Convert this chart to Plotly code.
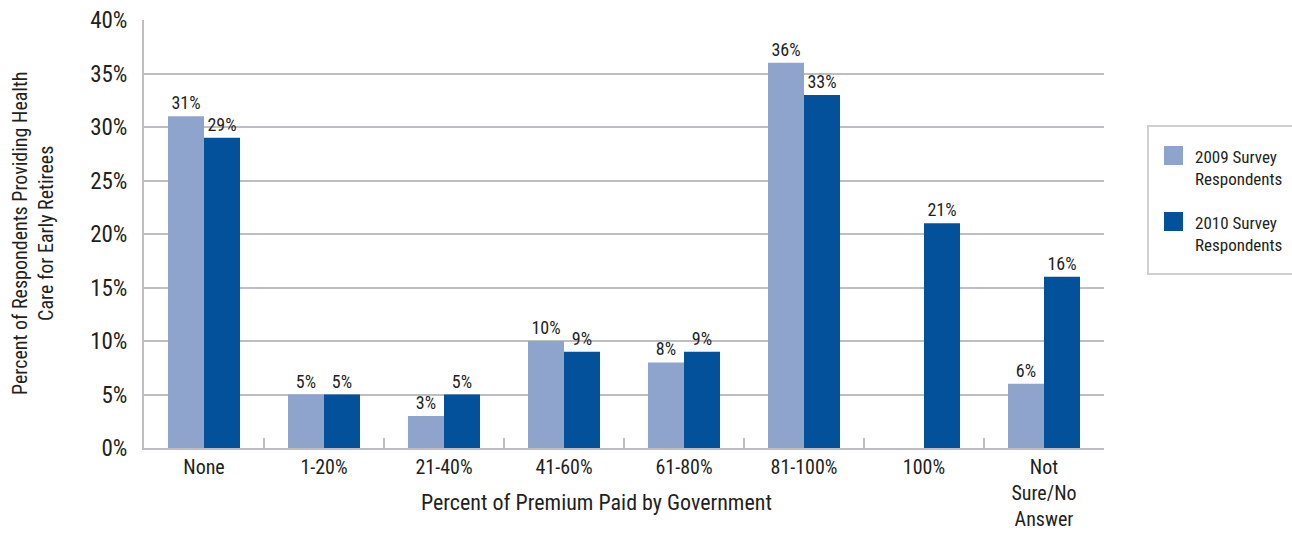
import plotly.graph_objects as go

categories = ["None", "1-20%", "21-40%", "41-60%", "61-80%", "81-100%", "100%", "Not<br>Sure/No<br>Answer"]
values_2009 = [31, 5, 3, 10, 8, 36, 0, 6]
values_2010 = [29, 5, 5, 9, 9, 33, 21, 16]
labels_2009 = ["31%", "5%", "3%", "10%", "8%", "36%", "", "6%"]
labels_2010 = ["29%", "5%", "5%", "9%", "9%", "33%", "21%", "16%"]
series_names = ["2009 Survey<br>Respondents", "2010 Survey<br>Respondents"]
series_colors = ["#8FA4CD", "#03519B"]

FONT = "Liberation Sans Narrow, Arial Narrow, Roboto Condensed, sans-serif"
TXT = "#231F20"
GRID = "#BDBDC3"

W, H = 1292, 533
ML, MR, MT, MB = 144, 188, 20, 85
PW, PH = W - ML - MR, H - MT - MB

def px_x(p):
    return (p - ML) / PW

def px_y(p):
    return (H - MB - p) / PH

fig = go.Figure()
for vals, labs, name, col in [(values_2009, labels_2009, series_names[0], series_colors[0]),
                              (values_2010, labels_2010, series_names[1], series_colors[1])]:
    fig.add_trace(go.Bar(x=categories, y=vals, name=name,
                         marker=dict(color=col, line=dict(width=0)),
                         text=labs, textposition="outside", cliponaxis=False,
                         textfont=dict(size=18, color=TXT, family=FONT),
                         showlegend=False))

fig.update_layout(
    width=W, height=H,
    margin=dict(l=ML, r=MR, t=MT, b=MB, autoexpand=False),
    paper_bgcolor="white", plot_bgcolor="white",
    barmode="group", bargap=0.4, bargroupgap=0,
    font=dict(family=FONT, color=TXT),
    showlegend=False,
)
fig.update_xaxes(
    type="category", tickson="boundaries", ticks="inside", ticklen=10,
    tickcolor=GRID, tickwidth=2,
    showline=True, linecolor=GRID, linewidth=2,
    showgrid=False, automargin=False,
    tickfont=dict(size=20, color=TXT, family=FONT),
)
fig.update_yaxes(
    range=[0, 40], dtick=5, ticksuffix="%",
    showgrid=True, gridcolor=GRID, gridwidth=2,
    showline=True, linecolor=GRID, linewidth=2,
    zeroline=False, ticks="", ticklabelstandoff=10, automargin=False,
    tickfont=dict(size=23, color=TXT, family=FONT),
)
# axis titles
fig.add_annotation(
    text="Percent of Premium Paid by Government",
    xref="paper", yref="paper", x=px_x(596), y=px_y(503),
    xanchor="center", yanchor="middle", showarrow=False,
    font=dict(size=22, color=TXT, family=FONT),
)
fig.add_annotation(
    text="Percent of Respondents Providing Health<br>Care for Early Retirees",
    xref="paper", yref="paper", x=px_x(33), y=px_y(233),
    xanchor="center", yanchor="middle", textangle=-90, showarrow=False,
    font=dict(size=20, color=TXT, family=FONT),
)
# legend (box, swatches, labels)
fig.add_shape(type="rect", xref="paper", yref="paper",
              x0=px_x(1148), x1=px_x(1300), y0=px_y(274), y1=px_y(126),
              line=dict(color="#D0D0D0", width=2), fillcolor="white", layer="below")
for i, (name, col) in enumerate(zip(series_names, series_colors)):
    cy = 168 + i * 66
    fig.add_shape(type="rect", xref="paper", yref="paper",
                  x0=px_x(1164), x1=px_x(1183), y0=px_y(cy - 3), y1=px_y(cy - 22),
                  line=dict(width=0), fillcolor=col)
    fig.add_annotation(text=name, xref="paper", yref="paper",
                       x=px_x(1193), y=px_y(cy), xanchor="left", yanchor="middle",
                       align="left", showarrow=False,
                       font=dict(size=17, color=TXT, family=FONT))

fig.write_html("out.html")
